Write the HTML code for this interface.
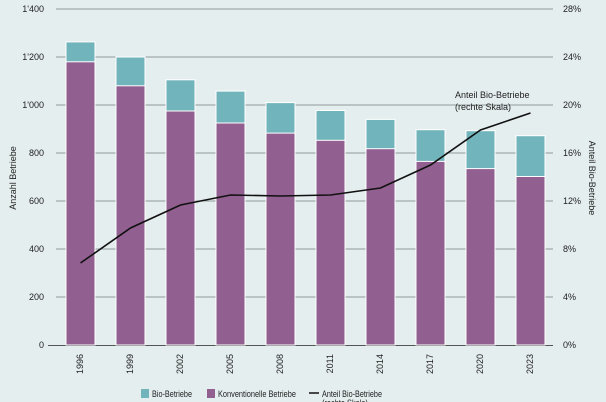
<!DOCTYPE html>
<html><head><style>
html,body{margin:0;padding:0;background:#e5eeef;}
svg{display:block;font-family:"Liberation Sans",Arial,sans-serif;}
</style></head><body>
<svg width="606" height="402" viewBox="0 0 606 402">
<rect width="606" height="402" fill="#e5eeef"/>
<g stroke="#8f9a9a" stroke-width="1">
<line x1="56" y1="9" x2="553" y2="9"/>
<line x1="56" y1="57" x2="553" y2="57"/>
<line x1="56" y1="105" x2="553" y2="105"/>
<line x1="56" y1="153" x2="553" y2="153"/>
<line x1="56" y1="201" x2="553" y2="201"/>
<line x1="56" y1="249" x2="553" y2="249"/>
<line x1="56" y1="297" x2="553" y2="297"/>
<line x1="48" y1="345.5" x2="553" y2="345.5" stroke="#555"/>
</g>
<g font-size="9" fill="#222" text-anchor="end">
<text x="44" y="12">1'400</text><text x="44" y="60">1'200</text><text x="44" y="108">1'000</text>
<text x="44" y="156">800</text><text x="44" y="204">600</text><text x="44" y="252">400</text>
<text x="44" y="300">200</text><text x="44" y="348">0</text>
</g>
<g font-size="9" fill="#222" text-anchor="start">
<text x="563" y="12">28%</text><text x="563" y="60">24%</text><text x="563" y="108">20%</text>
<text x="563" y="156">16%</text><text x="563" y="204">12%</text><text x="563" y="252">8%</text>
<text x="563" y="300">4%</text><text x="563" y="348">0%</text>
</g>
<text transform="translate(16,178) rotate(-90)" font-size="9" fill="#222" text-anchor="middle">Anzahl Betriebe</text>
<text transform="translate(589,178) rotate(90)" font-size="9" fill="#222" text-anchor="middle">Anteil Bio-Betriebe</text>
<g stroke="#fff" stroke-width="1">
<rect x="66" y="41.9" width="29" height="303.1" fill="#72b4bb"/><rect x="66" y="61.8" width="29" height="283.2" fill="#925f91"/>
<rect x="116" y="57" width="29" height="288" fill="#72b4bb"/><rect x="116" y="85.8" width="29" height="259.2" fill="#925f91"/>
<rect x="166" y="79.8" width="29" height="265.2" fill="#72b4bb"/><rect x="166" y="111" width="29" height="234" fill="#925f91"/>
<rect x="216" y="91.1" width="29" height="253.9" fill="#72b4bb"/><rect x="216" y="123" width="29" height="222" fill="#925f91"/>
<rect x="266" y="102.6" width="29" height="242.4" fill="#72b4bb"/><rect x="266" y="133.1" width="29" height="211.9" fill="#925f91"/>
<rect x="316" y="110.5" width="29" height="234.5" fill="#72b4bb"/><rect x="316" y="140.3" width="29" height="204.7" fill="#925f91"/>
<rect x="366" y="119.4" width="29" height="225.6" fill="#72b4bb"/><rect x="366" y="148.7" width="29" height="196.3" fill="#925f91"/>
<rect x="416" y="129.7" width="29" height="215.3" fill="#72b4bb"/><rect x="416" y="161.4" width="29" height="183.6" fill="#925f91"/>
<rect x="466" y="130.7" width="29" height="214.3" fill="#72b4bb"/><rect x="466" y="168.6" width="29" height="176.4" fill="#925f91"/>
<rect x="516" y="135.7" width="29" height="209.3" fill="#72b4bb"/><rect x="516" y="176.5" width="29" height="168.5" fill="#925f91"/>
</g>
<polyline fill="none" stroke="#111" stroke-width="1.6" points="80.5,263 130.5,228 180.5,205 230.5,195 280.5,196 330.5,195 380.5,188 430.5,165 480.5,130 530.5,113"/>
<text x="455" y="98" font-size="9" fill="#222">Anteil Bio-Betriebe</text>
<text x="455" y="110" font-size="9" fill="#222">(rechte Skala)</text>
<g font-size="9" fill="#222" text-anchor="end">
<text transform="translate(83,354) rotate(-90)">1996</text>
<text transform="translate(133,354) rotate(-90)">1999</text>
<text transform="translate(183,354) rotate(-90)">2002</text>
<text transform="translate(233,354) rotate(-90)">2005</text>
<text transform="translate(283,354) rotate(-90)">2008</text>
<text transform="translate(333,354) rotate(-90)">2011</text>
<text transform="translate(383,354) rotate(-90)">2014</text>
<text transform="translate(433,354) rotate(-90)">2017</text>
<text transform="translate(483,354) rotate(-90)">2020</text>
<text transform="translate(533,354) rotate(-90)">2023</text>
</g>
<rect x="141" y="389" width="8" height="9" fill="#72b4bb"/>
<text x="152" y="397" font-size="9" fill="#222" textLength="40" lengthAdjust="spacingAndGlyphs">Bio-Betriebe</text>
<rect x="207" y="389" width="8" height="9" fill="#925f91"/>
<text x="218" y="397" font-size="9" fill="#222" textLength="78" lengthAdjust="spacingAndGlyphs">Konventionelle Betriebe</text>
<line x1="309" y1="393" x2="319" y2="393" stroke="#111" stroke-width="1.5"/>
<text x="322" y="397" font-size="9" fill="#222" textLength="60" lengthAdjust="spacingAndGlyphs">Anteil Bio-Betriebe</text>
<text x="322" y="406" font-size="9" fill="#222" textLength="46" lengthAdjust="spacingAndGlyphs">(rechte Skala)</text>
</svg>
</body></html>
